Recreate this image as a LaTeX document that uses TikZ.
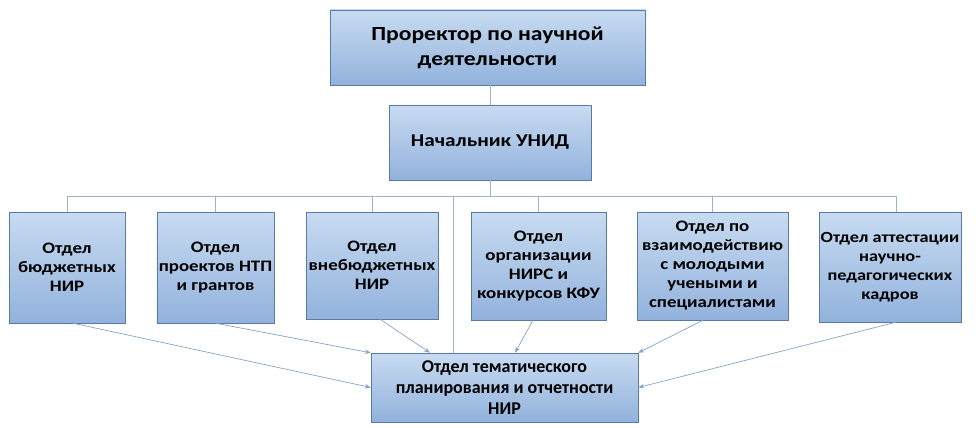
\documentclass[tikz,border=0pt]{standalone}
\usepackage{fontspec}
\setmainfont{Carlito}
\newfontfamily\widefont[FakeStretch=1.18]{Carlito}
\usetikzlibrary{arrows.meta}
\definecolor{boxtop}{HTML}{C8DBF1}
\definecolor{boxbot}{HTML}{92B2DC}
\definecolor{boxline}{HTML}{587AA6}
\definecolor{wire}{HTML}{9DB3CC}
\definecolor{arrowc}{HTML}{86A4CB}
\begin{document}
\begin{tikzpicture}[x=1pt, y=-1pt,
  box/.style={draw=boxline, top color=boxtop, bottom color=boxbot, align=center, inner sep=2pt, font=\widefont\bfseries},
  unit/.style={box, font=\widefont\bfseries\fontsize{16}{19}\selectfont},
  link/.style={draw=wire, line width=0.7pt},
  feed/.style={draw=arrowc, line width=0.7pt, -{Stealth[length=6pt,width=4.5pt]}}]
\useasboundingbox (0,0) rectangle (980,428);

\node (pro) [box, minimum width=315pt, minimum height=75pt, font=\widefont\bfseries\fontsize{20}{25}\selectfont] at (487.5,47.5) {Проректор по научной \\ деятельности};
\node (head) [box, minimum width=202pt, minimum height=75pt, font=\widefont\bfseries\fontsize{18}{23}\selectfont] at (490,142.5) {Начальник УНИД};

\node (d1) [unit, minimum width=116pt, minimum height=111pt] at (67,267.5) {Отдел \\ бюджетных \\ НИР};
\node (d2) [unit, minimum width=117pt, minimum height=111pt] at (215.5,267.5) {Отдел \\ проектов НТП \\ и грантов};
\node (d3) [unit, minimum width=132pt, minimum height=107pt] at (372,265.5) {Отдел \\ внебюджетных \\ НИР};
\node (d4) [unit, minimum width=135pt, minimum height=108pt] at (538.5,266) {Отдел \\ организации \\ НИРС и \\ конкурсов КФУ};
\node (d5) [unit, minimum width=151pt, minimum height=108pt] at (712.5,266) {Отдел по \\ взаимодействию \\ с молодыми \\ учеными и \\ специалистами};
\node (d6) [unit, minimum width=142pt, minimum height=110pt, inner xsep=0pt, font=\widefont\bfseries\fontsize{15.5}{19}\selectfont] at (890,267) {Отдел аттестации \\ научно- \\ педагогических \\ кадров};

\node (nir) [box, minimum width=267pt, minimum height=69pt, font=\bfseries\fontsize{18}{21}\selectfont] at (504.5,387.5) {Отдел тематического \\ планирования и отчетности \\ НИР};

\coordinate (bus) at (490,196);
\coordinate (mid) at (453,196);

\draw [link] ([xshift=2.5pt]pro.south) -- (head.north);
\draw [link] (head.south) -- (bus);
\draw [link] (d1.north) |- (bus);
\draw [link] (d2.north) |- (bus);
\draw [link] (d3.north) |- (bus);
\draw [link] (d4.north) |- (bus);
\draw [link] (d5.north) |- (bus);
\draw [link] ([xshift=6pt]d6.north) |- (bus);
\draw [link] (mid) -- (mid |- nir.north);

\draw [feed] ([xshift=6pt]d1.south) -- (nir.west);
\draw [feed] (d2.south) -- (nir.north west);
\draw [feed] ([xshift=8pt]d3.south) -- ([xshift=-74.5pt]nir.north);
\draw [feed] ([xshift=-5.5pt]d4.south) -- ([xshift=10.5pt]nir.north);
\draw [feed] ([xshift=-9.5pt]d5.south) -- (nir.north east);
\draw [feed] ([xshift=6pt]d6.south) -- (nir.east);
\end{tikzpicture}
\end{document}
